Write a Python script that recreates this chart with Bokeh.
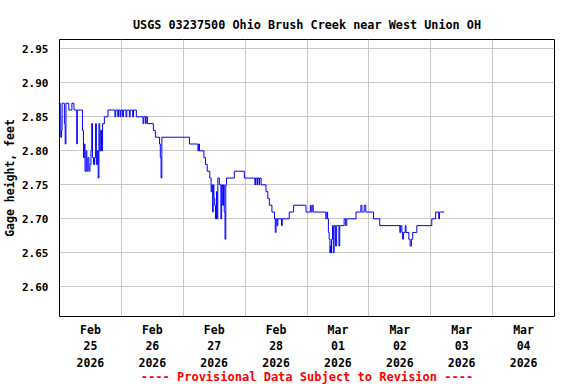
import pandas as pd
from bokeh.plotting import figure
from bokeh.models import Range1d, FixedTicker, NumeralTickFormatter, Title
from bokeh.embed import file_html
from bokeh.resources import INLINE

# ---- data: gage height change points (hours after 2026-02-25 00:00, feet) ----
hours = [0.0, 0.3, 0.5, 0.8, 1.0, 1.9, 2.2, 2.5, 3.6, 4.8, 5.6, 6.7, 6.9, 8.9, 9.3, 9.6, 9.9,
         10.3, 10.6, 11.0, 11.4, 11.8, 12.2, 12.5, 12.8, 13.2, 13.6, 14.0, 14.3, 14.7, 15.0,
         15.3, 15.6, 16.0, 16.3, 16.7, 17.4, 18.8, 21.5, 21.8, 22.6, 22.9, 23.5, 23.8, 24.5,
         24.8, 25.8, 26.1, 27.1, 27.4, 28.4, 28.7, 29.8, 32.4, 32.7, 33.4, 33.6, 34.1, 36.4,
         37.2, 38.8, 39.1, 39.4, 39.7, 50.4, 53.7, 54.0, 54.3, 56.0, 56.6, 57.3, 58.3, 58.8,
         59.1, 59.4, 59.6, 59.9, 60.2, 60.5, 60.9, 61.1, 61.4, 62.0, 62.6, 62.9, 63.3, 63.6,
         63.9, 64.2, 64.5, 64.8, 67.8, 71.7, 75.8, 76.0, 76.6, 76.8, 77.4, 77.6, 78.2, 80.1,
         80.8, 81.4, 82.4, 83.4, 83.7, 84.0, 84.4, 84.7, 86.1, 86.4, 89.1, 90.8, 95.6, 97.3,
         97.6, 98.0, 98.4, 103.3, 103.7, 104.0, 104.3, 104.6, 104.9, 105.1, 105.3, 105.5,
         105.9, 106.2, 106.5, 107.1, 107.5, 108.4, 108.7, 110.4, 111.0, 111.4, 115.0, 116.9,
         117.3, 118.2, 118.8, 121.8, 124.2, 132.0, 132.3, 132.8, 133.1, 133.4, 134.1, 134.4,
         135.5, 136.0, 136.5, 137.0, 138.6, 144.4, 145.9, 147.1, 147.4, 149.2]
gage_ft = [2.87, 2.85, 2.82, 2.83, 2.87, 2.84, 2.81, 2.87, 2.86, 2.87, 2.86, 2.81, 2.86, 2.83,
           2.79, 2.81, 2.77, 2.80, 2.77, 2.79, 2.77, 2.78, 2.80, 2.84, 2.79, 2.78, 2.79, 2.84,
           2.78, 2.80, 2.76, 2.84, 2.80, 2.83, 2.80, 2.84, 2.85, 2.86, 2.85, 2.86, 2.85, 2.86,
           2.85, 2.86, 2.85, 2.86, 2.85, 2.86, 2.85, 2.86, 2.85, 2.86, 2.85, 2.84, 2.85, 2.84,
           2.85, 2.84, 2.83, 2.82, 2.81, 2.79, 2.76, 2.82, 2.81, 2.80, 2.81, 2.80, 2.79, 2.78,
           2.77, 2.76, 2.74, 2.75, 2.71, 2.75, 2.73, 2.72, 2.70, 2.74, 2.70, 2.76, 2.75, 2.70,
           2.75, 2.72, 2.75, 2.71, 2.67, 2.75, 2.76, 2.77, 2.76, 2.75, 2.76, 2.75, 2.76, 2.75,
           2.76, 2.75, 2.74, 2.73, 2.72, 2.71, 2.70, 2.68, 2.70, 2.69, 2.70, 2.69, 2.70, 2.71,
           2.72, 2.71, 2.72, 2.71, 2.72, 2.71, 2.70, 2.71, 2.70, 2.68, 2.67, 2.65, 2.66, 2.65,
           2.67, 2.69, 2.65, 2.69, 2.66, 2.69, 2.66, 2.69, 2.70, 2.69, 2.70, 2.71, 2.72, 2.71,
           2.72, 2.71, 2.70, 2.69, 2.68, 2.69, 2.68, 2.67, 2.68, 2.69, 2.68, 2.67, 2.66, 2.67,
           2.68, 2.69, 2.70, 2.71, 2.70, 2.71, 2.71]

day_dates = ["2026-02-25", "2026-02-26", "2026-02-27", "2026-02-28",
             "2026-03-01", "2026-03-02", "2026-03-03", "2026-03-04"]
day_labels = ["Feb\n25\n2026", "Feb\n26\n2026", "Feb\n27\n2026", "Feb\n28\n2026",
              "Mar\n01\n2026", "Mar\n02\n2026", "Mar\n03\n2026", "Mar\n04\n2026"]
y_ticks = [2.60, 2.65, 2.70, 2.75, 2.80, 2.85, 2.90, 2.95]

title_text = "USGS 03237500 Ohio Brush Creek near West Union OH"
ylabel_text = "Gage height, feet"
footer_text = "---- Provisional Data Subject to Revision ----"

# ---- build ----
start = pd.Timestamp("2026-02-25 00:00")
times = [start + pd.Timedelta(hours=h) for h in hours]


def ms(ts):
    return int(pd.Timestamp(ts).value // 10**6)


x_start = ms("2026-02-25 00:00")
x_end = ms("2026-03-05 00:00")
noon_ticks = [ms(d + " 12:00") for d in day_dates]
midnight_ticks = [ms(d + " 00:00") for d in day_dates] + [x_end]

FONT = "DejaVu Sans Mono"

p = figure(width=576, height=384, x_axis_type="datetime",
           x_range=Range1d(x_start, x_end), y_range=Range1d(2.5564, 2.9637),
           output_backend="svg", toolbar_location=None,
           min_border_left=58, min_border_right=22, min_border_top=39, min_border_bottom=68)

p.step(times, gage_ft, mode="after", line_color="#0000ff", line_width=1)

p.title.text = title_text
p.title.align = "center"
p.title.text_font = FONT
p.title.text_font_size = "11.8px"
p.title.text_font_style = "bold"
p.title.text_color = "black"
p.title.standoff = 16

p.outline_line_color = "black"
p.outline_line_width = 1
p.background_fill_color = "white"
p.border_fill_color = "white"

# x axis
xa = p.xaxis[0]
xa.ticker = FixedTicker(ticks=noon_ticks)
xa.major_label_overrides = {t: lab for t, lab in zip(noon_ticks, day_labels)}
xa.major_label_text_font = FONT
xa.major_label_text_font_size = "11.5px"
xa.major_label_text_font_style = "bold"
xa.major_label_text_color = "black"
xa.major_label_text_line_height = 1.2
xa.major_label_standoff = 0
xa.axis_line_color = None
xa.major_tick_line_color = None
xa.minor_tick_line_color = None

# y axis
ya = p.yaxis[0]
ya.ticker = FixedTicker(ticks=y_ticks)
ya.formatter = NumeralTickFormatter(format="0.00")
ya.axis_label = ylabel_text
ya.axis_label_text_font = FONT
ya.axis_label_text_font_size = "11.5px"
ya.axis_label_text_font_style = "bold"
ya.axis_label_text_color = "black"
ya.axis_label_standoff = 2
ya.major_label_text_font = FONT
ya.major_label_text_font_size = "11px"
ya.major_label_text_font_style = "bold"
ya.major_label_text_color = "black"
ya.major_label_standoff = 5
ya.axis_line_color = None
ya.major_tick_line_color = None
ya.minor_tick_line_color = None

# grids
p.xgrid.ticker = FixedTicker(ticks=midnight_ticks)
p.xgrid.grid_line_color = "#c8c8c8"
p.ygrid.ticker = FixedTicker(ticks=y_ticks)
p.ygrid.grid_line_color = "#c8c8c8"

# footer
footer = Title(text=footer_text, align="center", text_font=FONT, text_font_size="12px",
               text_font_style="bold", text_color="#ff0000", standoff=-12)
p.add_layout(footer, "below")

open("out.html", "w").write(file_html(p, INLINE))
